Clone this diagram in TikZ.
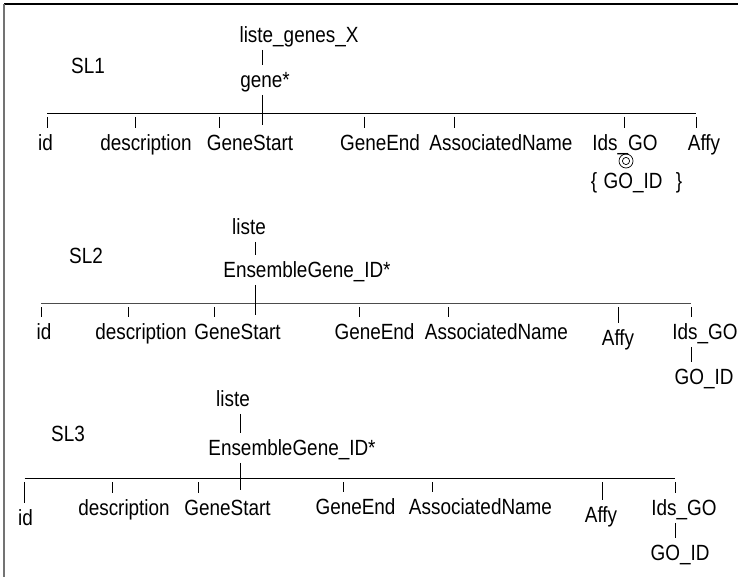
\documentclass[tikz,border=0pt]{standalone}
\usepackage{fontspec}
\setmainfont{Liberation Sans}[FakeStretch=0.86]
\begin{document}
\begin{tikzpicture}[x=1pt,y=-1pt,
  lbl/.style={inner xsep=0pt, inner ysep=7pt, text height=15.5pt, text depth=0pt,
    font=\fontsize{22}{25}\selectfont},
  conn/.style={line width=0.8pt, black},
  barline/.style={line width=0.9pt, black},
  ringmark/.style={circle, draw, line width=0.7pt, inner sep=0pt, minimum size=14pt}]
\useasboundingbox (0,0) rectangle (738,577);
\draw[line width=1.5pt, black] (4,4) -- (738,4);
\draw[line width=1.5pt, black!55] (4,4) -- (4,577);

% ---------------- SL1
\node[lbl] (a-root) at (299,35) {liste\_genes\_X};
\node[lbl] (a-sl) at (88,66) {SL1};
\node[lbl] (a-gene) at (265,80) {gene*};
\draw[conn] (a-root.south -| 262,0) -- (a-gene.north -| 262,0);
\coordinate (a-bl) at (47,113);
\coordinate (a-br) at (696,113);
\draw[barline] (a-bl) -- (a-br);
\coordinate (a-cb) at (262,125);
\draw[conn] (a-gene.south -| a-cb) -- (a-cb);
\node[lbl] (a-id) at (45.6,143) {id};
\node[lbl] (a-desc) at (146,143) {description};
\node[lbl] (a-gs) at (250,143) {GeneStart};
\node[lbl] (a-ge) at (380,143) {GeneEnd};
\node[lbl] (a-an) at (501,143) {AssociatedName};
\node[lbl] (a-ids) at (625,143) {Ids\_GO};
\node[lbl] (a-affy) at (704,143) {Affy};
\foreach \n/\x in {id/47,desc/135,gs/219,ge/364,an/454,ids/624,affy/696}{
  \coordinate (a-t-\n) at (\x,117);
  \draw[conn] (a-t-\n) -- (a-t-\n |- a-\n.north);
}
\node[ringmark] (a-ring) at (626,161) {};
\draw[line width=0.7pt] (a-ring.center) circle (3.6pt);
\node[lbl] (a-lb) at (594,181) {\{};
\node[lbl] (a-goid) at (633,181) {GO\_ID};
\node[lbl] (a-rb) at (679,181) {\}};

% ---------------- SL2
\node[lbl] (b-root) at (249,227) {liste};
\node[lbl] (b-sl) at (86,256) {SL2};
\node[lbl] (b-ens) at (307,270) {EnsembleGene\_ID*};
\coordinate (b-cb) at (255,315);
\draw[conn] (b-root.south -| b-cb) -- (b-ens.north -| b-cb);
\coordinate (b-bl) at (41,303);
\coordinate (b-br) at (691,303);
\draw[barline, black!70] (b-bl) -- (b-br);
\draw[conn] (b-ens.south -| b-cb) -- (b-cb);
\node[lbl] (b-id) at (44,332) {id};
\node[lbl] (b-desc) at (141,332) {description};
\node[lbl] (b-gs) at (237.5,332) {GeneStart};
\node[lbl] (b-ge) at (374.5,332) {GeneEnd};
\node[lbl] (b-an) at (496.5,332) {AssociatedName};
\node[lbl] (b-affy) at (618,338) {Affy};
\node[lbl] (b-ids) at (705,332) {Ids\_GO};
\foreach \n/\x in {id/41,desc/128,gs/214,ge/359,an/448,affy/618,ids/691}{
  \coordinate (b-t-\n) at (\x,307);
  \draw[conn] (b-t-\n) -- (b-t-\n |- b-\n.north);
}
\node[lbl] (b-goid) at (704,377) {GO\_ID};
\draw[conn] (b-ids.south -| b-br) -- (b-goid.north -| b-br);

% ---------------- SL3
\node[lbl] (c-root) at (233,399) {liste};
\node[lbl] (c-sl) at (68,434) {SL3};
\node[lbl] (c-ens) at (292,448) {EnsembleGene\_ID*};
\coordinate (c-cb) at (240,490);
\draw[conn] (c-root.south -| c-cb) -- (c-ens.north -| c-cb);
\coordinate (c-bl) at (24.5,478);
\coordinate (c-br) at (675,478);
\draw[barline] (c-bl) -- (c-br);
\draw[conn] (c-ens.south -| c-cb) -- (c-cb);
\node[lbl] (c-id) at (25.5,518) {id};
\node[lbl] (c-desc) at (124,508) {description};
\node[lbl] (c-gs) at (227.5,508) {GeneStart};
\node[lbl] (c-ge) at (355.5,507) {GeneEnd};
\node[lbl] (c-an) at (480.5,507) {AssociatedName};
\node[lbl] (c-affy) at (601,515) {Affy};
\node[lbl] (c-ids) at (684,508) {Ids\_GO};
\foreach \n/\x in {id/24.5,desc/112,gs/198,ge/343,an/432,affy/602,ids/675}{
  \coordinate (c-t-\n) at (\x,482);
  \draw[conn] (c-t-\n) -- (c-t-\n |- c-\n.north);
}
\node[lbl] (c-goid) at (680,553) {GO\_ID};
\draw[conn] (c-ids.south -| c-br) -- (c-goid.north -| c-br);
\end{tikzpicture}
\end{document}
